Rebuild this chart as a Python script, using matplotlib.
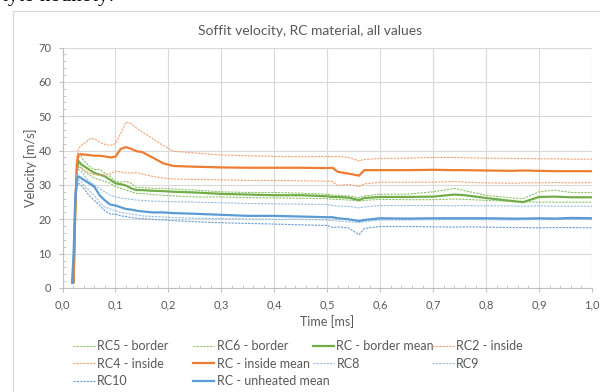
import numpy as np
import matplotlib
matplotlib.use('Agg')
from matplotlib import pyplot as plt
from matplotlib.patches import Rectangle
from matplotlib.ticker import MultipleLocator, FuncFormatter

plt.rcParams['font.family'] = ['Lato', 'DejaVu Sans']

nan = np.nan
t = [0.018, 0.021, 0.024, 0.027, 0.030, 0.035, 0.040, 0.045, 0.050, 0.060,
     0.070, 0.080, 0.090, 0.100, 0.110, 0.120, 0.130, 0.140, 0.150, 0.170,
     0.190, 0.210, 0.250, 0.300, 0.350, 0.400, 0.450, 0.500, 0.510, 0.520,
     0.540, 0.560, 0.570, 0.600, 0.650, 0.700, 0.740, 0.760, 0.800, 0.850,
     0.870, 0.900, 0.930, 0.960, 1.000]

# border (green)
rc5 = [nan, 2, 24, 36, 38, 38.5, 37, 36.5, 35.5, 34.5, 34.5, 33.5, 32.5, 31, 30.8,
       31, 30.5, 29.2, 29.3, 29, 29, 28.8, 28.5, 28, 27.8, 27.8, 27.6, 27.3, 27, 27,
       26.8, 26.3, 26.8, 27.3, 27.3, 28, 29, 28.3, 27, 26.2, 26, 28, 28.5, 27.8, 27.8]
rc6 = [nan, 2, 20, 33, 35.5, 35, 34, 33.5, 33, 32, 31.5, 31, 30.5, 29.5, 29,
       28.5, 28, 27.5, 27.5, 27.2, 27, 26.8, 26.5, 26.5, 26.3, 26.2, 26.1, 26, 25.8, 25.8,
       25.6, 25.3, 25.5, 25.8, 25.7, 25.7, 25.9, 25.8, 25.5, 25.2, 25.1, 25, 25, 25, 25]
border_mean = [nan, 2, 22, 34, 37, 36, 35.5, 35, 34.5, 33.5, 33, 32.5, 31.5, 30.5, 30.2,
               29.8, 29, 28.5, 28.5, 28.3, 28.2, 28, 27.8, 27.4, 27.2, 27, 27, 26.7, 26.5, 26.5,
               26.3, 25.6, 26.2, 26.5, 26.5, 26.6, 27.2, 27, 26.2, 25.3, 25, 26.5, 26.6, 26.4, 26.4]

# inside (orange)
rc2 = [nan, 2, 25, 38, 40.5, 41.5, 42, 42.5, 43.3, 43.5, 42.5, 41.8, 41.5, 42, 45,
       48.3, 47.8, 46.5, 45.5, 43.5, 41.5, 39.8, 39.3, 38.7, 38.5, 38.3, 38.2, 38.3, 38.2, 38.3,
       38, 37, 37.4, 37.7, 37.8, 38, 38, 37.9, 37.8, 37.7, 37.7, 37.6, 37.6, 37.5, 37.5]
rc4 = [nan, 1.5, 20, 34, 35.5, 35, 34.5, 34, 33.5, 33, 32.8, 33, 33.2, 34, 33.8,
       33.5, 33.5, 33.6, 33.2, 32.5, 32, 31.7, 31.6, 31.5, 31.3, 31.3, 31.2, 31.1, 31, 29.8,
       30.2, 29.5, 30.3, 30.8, 30.8, 30.8, 31, 30.8, 30.6, 30.5, 30.6, 30.6, 30.7, 30.6, 30.7]
inside_mean = [nan, 1.5, 22, 36, 38.8, 39, 38.8, 38.8, 38.7, 38.5, 38.5, 38.3, 38, 38.2, 40.5,
               41, 40.5, 39.8, 39.6, 38, 36.3, 35.5, 35.3, 35.1, 35, 35, 35, 34.9, 35, 33.8,
               33.3, 32.7, 34.3, 34.3, 34.3, 34.4, 34.3, 34.3, 34.2, 34.1, 34.2, 34.1, 34, 34, 34]

# unheated (blue)
rc8 = [1.5, 12, 28, 33.5, 34.5, 34, 33, 32, 31, 30, 29, 28, 27, 26.5, 26.2,
       26, 25.8, 25.6, 25.5, 25.3, 25.2, 25.1, 25, 24.8, 24.6, 24.5, 24.4, 24.3, 24, 23.8,
       23.8, 23.3, 23.6, 24, 24, 24, 23.9, 24, 23.9, 23.9, 23.8, 23.9, 23.8, 23.8, 23.8]
rc9 = [1.5, 9, 25, 30.5, 31.5, 31, 30, 29, 28.5, 27, 25, 23.5, 23, 22.5, 22,
       21.8, 21.5, 21.3, 21, 20.8, 20.7, 20.5, 20.3, 20.2, 20.1, 20, 20, 19.8, 19.6, 19.5,
       19.3, 19, 19.3, 19.8, 19.8, 19.9, 19.9, 19.9, 19.9, 19.8, 19.9, 19.9, 19.9, 20, 19.9]
rc10 = [1.5, 8, 23, 29.5, 30.5, 30, 29, 28, 27, 25.5, 24, 22.5, 21.5, 21.5, 21,
        20.8, 20.5, 20.3, 20.2, 20, 19.8, 19.6, 19.3, 19, 18.8, 18.6, 18.4, 18.2, 17.6, 17.8,
        17.5, 15.5, 17.3, 17.9, 17.9, 17.8, 17.7, 17.8, 17.7, 17.6, 17.6, 17.5, 17.6, 17.6, 17.5]
unheated_mean = [1.5, 10, 26, 31.5, 32.5, 32, 31.5, 31, 30.5, 29.5, 27, 25.5, 24.3, 24, 23.5,
                 23, 22.8, 22.5, 22.3, 22, 22, 21.8, 21.6, 21.3, 21, 21, 20.8, 20.6, 20.6, 20.3,
                 20, 19.5, 19.8, 20.3, 20.2, 20.3, 20.3, 20.3, 20.3, 20.2, 20.2, 20.3, 20.2, 20.4, 20.3]

series = [
    ('RC5 - border', rc5, '#8CC36A', 'dash'),
    ('RC6 - border', rc6, '#8CC36A', 'dash'),
    ('RC - border mean', border_mean, '#70AD47', 'solid'),
    ('RC2 - inside', rc2, '#F2A272', 'dash'),
    ('RC4 - inside', rc4, '#F2A272', 'dash'),
    ('RC - inside mean', inside_mean, '#ED7D31', 'solid'),
    ('RC8', rc8, '#93BDE4', 'dash'),
    ('RC9', rc9, '#93BDE4', 'dash'),
    ('RC10', rc10, '#6A9AD2', 'dash'),
    ('RC - unheated mean', unheated_mean, '#5B9BD5', 'solid'),
]

grey = '#595959'
fig = plt.figure(figsize=(6, 3.92), dpi=100)

# chart frame
fig.patches.append(Rectangle((12.7 / 600, -0.1), 1.2, 1 - 10.7 / 392 + 0.1,
                             transform=fig.transFigure, fill=False,
                             edgecolor='#d9d9d9', linewidth=0.9))
fig.text(2 / 600, 1 - 1.5 / 392, 'tyto hodnoty:', family='Liberation Serif',
         fontsize=15, va='baseline', ha='left', color='black')

ax = fig.add_axes([62.5 / 600, 104 / 392, 529.5 / 600, 240.5 / 392])

handles = {}
for name, vals, col, style in series:
    if style == 'solid':
        ln, = ax.plot(t, vals, color=col, linewidth=1.6, label=name)
    else:
        ln, = ax.plot(t, vals, color=col, linewidth=0.8, linestyle=(0, (2, 1)), label=name)
    handles[name] = ln

ax.set_xlim(0, 1)
ax.set_ylim(0, 70)
ax.xaxis.set_major_locator(MultipleLocator(0.1))
ax.xaxis.set_minor_locator(MultipleLocator(0.02))
ax.yaxis.set_major_locator(MultipleLocator(10))
ax.yaxis.set_minor_locator(MultipleLocator(2))
ax.xaxis.set_major_formatter(FuncFormatter(lambda v, p: f'{v:.1f}'.replace('.', ',')))
ax.grid(True, which='major', color='#d9d9d9', linewidth=0.8)
ax.set_axisbelow(True)
for s in ['top', 'right']:
    ax.spines[s].set_visible(False)
for s in ['left', 'bottom']:
    ax.spines[s].set_color('#bfbfbf')
    ax.spines[s].set_linewidth(0.8)
ax.tick_params(which='major', direction='out', length=3, color='#bfbfbf',
               labelsize=8, labelcolor=grey)
ax.tick_params(axis='x', which='major', pad=5.4)
ax.tick_params(axis='y', which='major', pad=4.9)
ax.tick_params(which='minor', direction='in', length=2.5, color='#bfbfbf')

ax.set_xlabel('Time [ms]', fontsize=9, color=grey, labelpad=3)
ax.set_ylabel('Velocity [m/s]', fontsize=9.2, color=grey, labelpad=1)
fig.text(310 / 600, 1 - 31 / 392, 'Soffit velocity, RC material, all values',
         ha='center', va='center', fontsize=10, color=grey)

# legend, one block per column as in the spreadsheet layout
columns = [
    ['RC5 - border', 'RC4 - inside', 'RC10'],
    ['RC6 - border', 'RC - inside mean', 'RC - unheated mean'],
    ['RC - border mean', 'RC8'],
    ['RC2 - inside', 'RC9'],
]
for i, names in enumerate(columns):
    x0 = (73.3 + i * 119.7) / 600
    fig.legend([handles[n] for n in names], names, loc='upper left',
               bbox_to_anchor=(x0, 1 - 340 / 392), frameon=False,
               fontsize=9, labelcolor=grey, handlelength=1.7, handletextpad=0.2,
               labelspacing=0.45, borderpad=0, borderaxespad=0)

fig.savefig('out.png', dpi=100)
